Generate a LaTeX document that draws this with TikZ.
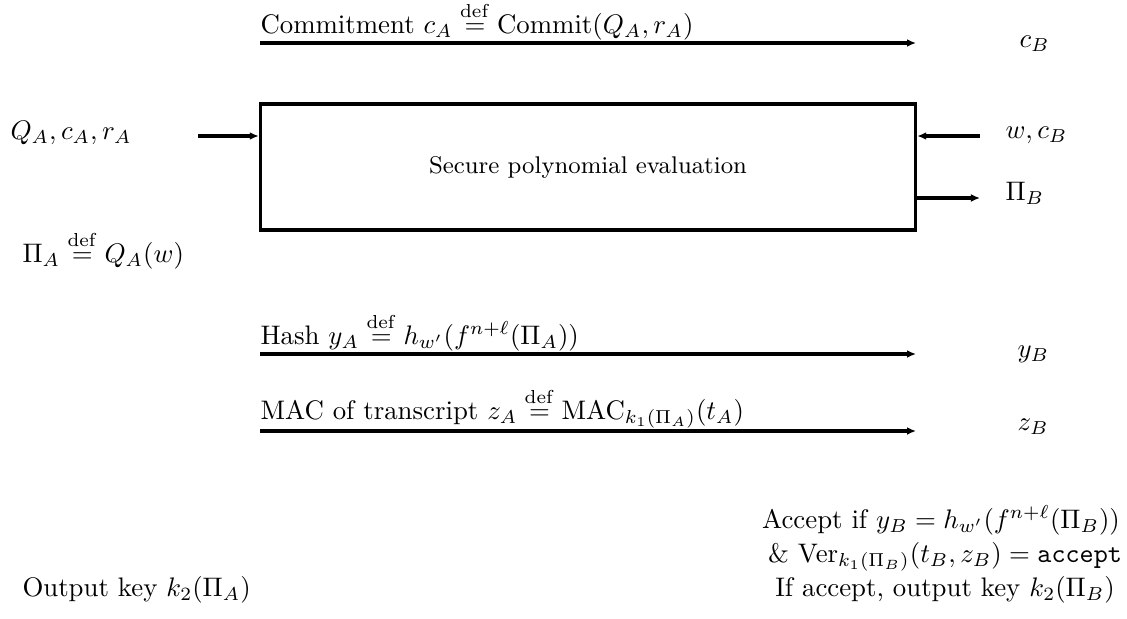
\documentclass[tikz,border=0pt]{standalone}
\usetikzlibrary{arrows.meta}
\begin{document}
\begin{tikzpicture}[x=0.3729pt,y=-0.3729pt,
  msg/.style={line width=1.25pt,-{Latex[length=3.3pt,width=2.9pt]}},
  thickmsg/.style={line width=1.6pt,-{Latex[length=3.4pt,width=3pt]}},
  lbl/.style={inner sep=0pt,anchor=base west},
  procbox/.style={draw,line width=1.25pt,minimum width=244.3pt,minimum height=47pt,inner sep=0pt,font=\small}]
\useasboundingbox (0,0) rectangle (1127,618);

% commitment
\coordinate (c1) at (260,43);
\coordinate (c2) at (916,43);
\draw[msg] (c1) -- (c2);
\node[lbl] (commit) at (260,33) {Commitment $c_A \stackrel{\mathrm{def}}{=} \mathrm{Commit}(Q_A, r_A)$};
\node[lbl] (cB) at (1019,47) {$c_B$};

% box
\node[procbox] (spe) at (588,167) {Secure polynomial evaluation};

\node[lbl] (qin) at (10,139) {$Q_A, c_A, r_A$};
\coordinate (qa) at (198,136);
\draw[msg] (qa) -- (qa -| spe.west);

\node[lbl] (win) at (1005,138) {$w, c_B$};
\coordinate (wa) at (980,136);
\draw[msg] (wa) -- (wa -| spe.east);

\node[lbl] (piB) at (1005,200) {$\Pi_B$};
\coordinate (pa) at (980,198);
\draw[thickmsg] (pa -| spe.east) -- (pa);

\node[lbl] (piA) at (22,262) {$\Pi_A \stackrel{\mathrm{def}}{=} Q_A(w)$};

% hash
\coordinate (h1) at (260,354);
\coordinate (h2) at (916,354);
\draw[msg] (h1) -- (h2);
\node[lbl] (hash) at (260,344) {Hash $y_A \stackrel{\mathrm{def}}{=} h_{w'}(f^{n+\ell}(\Pi_A))$};
\node[lbl] (yB) at (1017,357) {$y_B$};

% mac
\coordinate (m1) at (260,431);
\coordinate (m2) at (916,431);
\draw[msg] (m1) -- (m2);
\node[lbl] (mac) at (260,419) {MAC of transcript $z_A \stackrel{\mathrm{def}}{=} \mathrm{MAC}_{k_1(\Pi_A)}(t_A)$};
\node[lbl] (zB) at (1017,430) {$z_B$};

% outputs
\node[inner sep=0pt,anchor=base] (acc1) at (941,528) {Accept if $y_B = h_{w'}(f^{n+\ell}(\Pi_B))$};
\node[inner sep=0pt,anchor=base] (acc2) at (945,562) {\& $\mathrm{Ver}_{k_1(\Pi_B)}(t_B, z_B) = \texttt{accept}$};
\node[inner sep=0pt,anchor=base] (acc3) at (945,596) {If accept, output key $k_2(\Pi_B)$};
\node[lbl] (outA) at (22,596) {Output key $k_2(\Pi_A)$};
\end{tikzpicture}
\end{document}
